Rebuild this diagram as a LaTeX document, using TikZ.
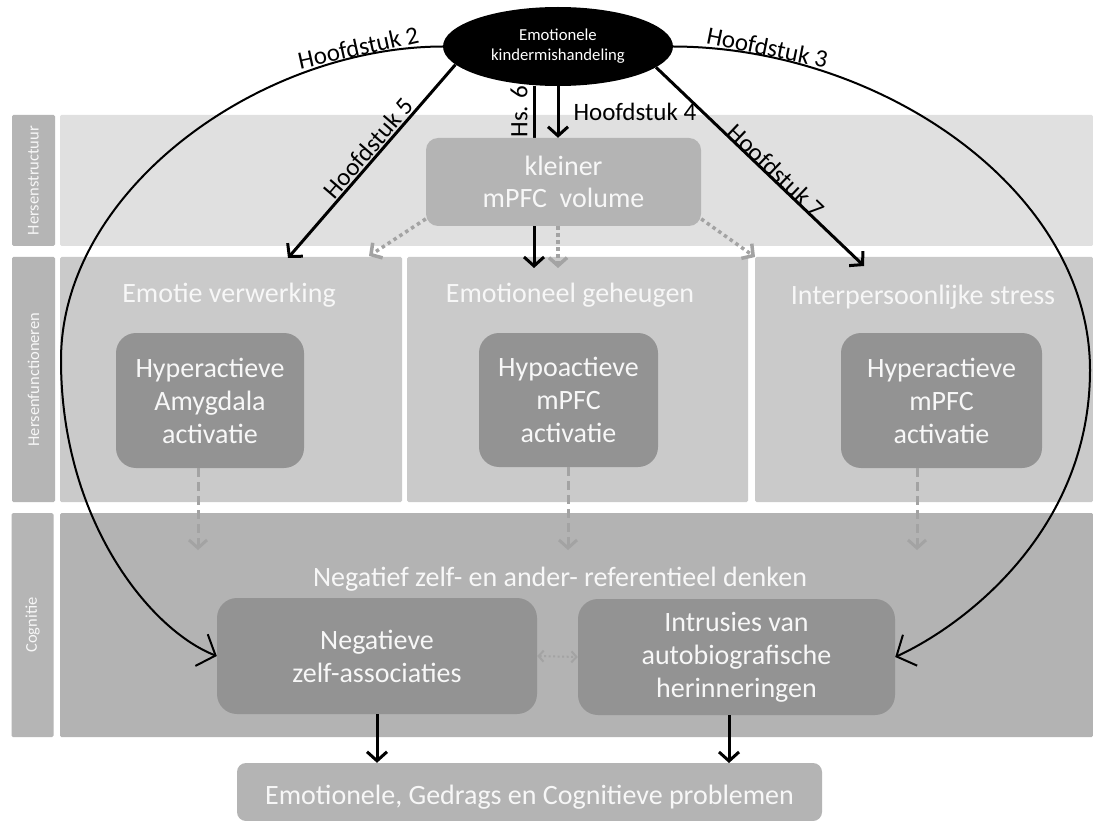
\documentclass[tikz,border=0pt]{standalone}
\usepackage{fontspec}
\setmainfont{Carlito}
\usetikzlibrary{shapes.geometric,arrows.meta,calc}
\definecolor{bandA}{HTML}{E0E0E0}
\definecolor{labgray}{HTML}{B5B5B5}
\definecolor{panelB}{HTML}{CACACA}
\definecolor{bandC}{HTML}{B3B3B3}
\definecolor{darkbox}{HTML}{939393}
\definecolor{midbox}{HTML}{B4B4B4}
\definecolor{arrgray}{HTML}{A3A3A3}
\definecolor{txtw}{HTML}{F7F7F7}
\tikzset{
  area/.style={fill=#1, draw=none, rounded corners=1.5pt, inner sep=0pt, outer sep=0pt},
  sidelab/.style={fill=labgray, draw=none, rounded corners=1.5pt, inner sep=0pt, rotate=90, text=txtw, font=\fontsize{16.5}{18}\selectfont},
  head/.style={text=txtw, inner sep=0pt, anchor=base, font=\fontsize{28}{32}\selectfont},
  dbox/.style={fill=darkbox, draw=none, rounded corners=20pt, text=txtw, align=center, inner sep=0pt, font=\fontsize{28}{33}\selectfont},
  mbox/.style={fill=midbox, draw=none, rounded corners=12pt, text=txtw, align=center, inner sep=0pt, font=\fontsize{28}{32}\selectfont},
  lbl/.style={inner sep=1pt, font=\fontsize{25}{28}\selectfont},
  blk/.style={line width=3pt, -{Straight Barb[length=9pt,width=20pt]}},
  curvearr/.style={line width=2pt, -{Straight Barb[length=15pt,width=34pt]}},
  dotarr/.style={draw=arrgray, line width=3.5pt, dash pattern=on 3.5pt off 3.5pt, -{Straight Barb[length=8pt,width=18pt]}},
  dasharr/.style={draw=arrgray, line width=3pt, dash pattern=on 9pt off 5pt, -{Straight Barb[length=8pt,width=18pt]}},
  dblarr/.style={draw=arrgray, line width=2pt, dash pattern=on 2pt off 2.5pt, {Straight Barb[length=5pt,width=11pt]}-{Straight Barb[length=5pt,width=11pt]}},
}
\begin{document}
\begin{tikzpicture}[x=1pt,y=-1pt]
\useasboundingbox (0,0) rectangle (1093,821);
\fill[white] (0,0) rectangle (1093,821);
% rows
\node[sidelab, minimum width=131pt, minimum height=43pt] (lab1) at (33.5,180.5) {Hersenstructuur};
\node[area=bandA, minimum width=1033pt, minimum height=131pt] (band1) at (576.5,180.5) {};
\node[sidelab, minimum width=245pt, minimum height=43pt] (lab2) at (33.5,379.5) {Hersenfunctioneren};
\node[area=panelB, minimum width=342pt, minimum height=245pt] (p1) at (231,379.5) {};
\node[area=panelB, minimum width=341pt, minimum height=245pt] (p2) at (577.5,379.5) {};
\node[area=panelB, minimum width=338pt, minimum height=245pt] (p3) at (924,379.5) {};
\node[sidelab, minimum width=224pt, minimum height=42pt] (lab3) at (32.5,625) {Cognitie};
\node[area=bandC, minimum width=1033pt, minimum height=224pt] (band3) at (576.5,625) {};
% headers
\node[head] (h1) at (229,302) {Emotie verwerking};
\node[head] (h2) at (570,302) {Emotioneel geheugen};
\node[head] (h3) at (923,305) {Interpersoonlijke stress};
\node[head] (h4) at (560,586) {Negatief zelf- en ander- referentieel denken};
% boxes
\node[dbox, minimum width=188pt, minimum height=135pt] (b1) at (210,400.5) {Hyperactieve\\Amygdala\\activatie};
\node[dbox, minimum width=179pt, minimum height=134pt] (b2) at (568.5,400) {Hypoactieve\\mPFC\\activatie};
\node[dbox, minimum width=201pt, minimum height=135pt] (b3) at (941.5,400.5) {Hyperactieve\\mPFC\\activatie};
\node[dbox, minimum width=320pt, minimum height=116pt] (neg) at (377,656) {Negatieve\\zelf-associaties};
\node[dbox, minimum width=317pt, minimum height=116pt] (intr) at (736.5,657) {Intrusies van\\autobiografische\\herinneringen};
\node[mbox, rounded corners=9pt, minimum width=585pt, minimum height=58pt, text height=25pt, text depth=0pt] (bot) at (529.5,792) {Emotionele, Gedrags en Cognitieve problemen};
% ellipse
\node[ellipse, fill=black, text=white, minimum width=230pt, minimum height=79pt, inner sep=0pt, align=center, font=\fontsize{16.7}{20}\selectfont] (ell) at (558,46.5) {Emotionele\\kindermishandeling};
% coordinates
\coordinate (t5) at (288,258);
\coordinate (t7) at (864,266);
\coordinate (t6) at (534,268);
\coordinate (tg) at (558,268);
\coordinate (dl) at (369,256);
\coordinate (dr) at (755,257);
\coordinate (e1) at (198,550);
\coordinate (e2) at (568,550);
\coordinate (e3) at (917,550);
\coordinate (ib) at (729,763);
% Hs. 6 (behind kleiner box)
\draw[blk] (t6 |- ell.south) -- (t6);
\node[lbl, rotate=90] (hs6) at (519,111.5) {Hs. 6};
\node[mbox, minimum width=275pt, minimum height=88pt] (kl) at (563.5,182) {kleiner\\mPFC\ \ volume};
% chapter arrows
\draw[blk] (ell.south) -- (ell.south |- kl.north) node[lbl, midway, right=13pt] (l4) {Hoofdstuk 4};
\draw[blk] (ell.190) -- node[lbl, sloped, above=0pt, pos=.47] (l5) {Hoofdstuk 5} (t5);
\draw[blk] (ell.-12) -- node[lbl, sloped, above=-3pt, pos=.55] (l7) {Hoofdstuk 7} (t7);
\draw[curvearr] (ell.west) .. controls (260,47) and (61,190) .. (61,360) node[lbl, pos=.15, sloped, above=-2pt] (l2) {Hoofdstuk 2} .. controls (61,520) and (150,630) .. (neg.west);
\draw[curvearr] (ell.east) .. controls (880,47) and (1090,190) .. (1090,370) node[lbl, pos=.15, sloped, above=-2pt] (l3) {Hoofdstuk 3} .. controls (1090,530) and (965,625) .. (intr.east);
% grey dotted from kleiner
\draw[dotarr] (kl.195) -- (dl);
\draw[dotarr] (kl.south -| tg) -- (tg);
\draw[dotarr] (kl.-15) -- (dr);
% grey dashed to cognition
\draw[dasharr] (b1.south -| e1) -- (e1);
\draw[dasharr] (b2.south -| e2) -- (e2);
\draw[dasharr] (b3.south -| e3) -- (e3);
\draw[dblarr] (neg.east) -- (intr.west);
% to bottom
\draw[blk] (neg.south) -- (neg.south |- bot.north);
\draw[blk] (intr.south -| ib) -- (ib);
\end{tikzpicture}
\end{document}
